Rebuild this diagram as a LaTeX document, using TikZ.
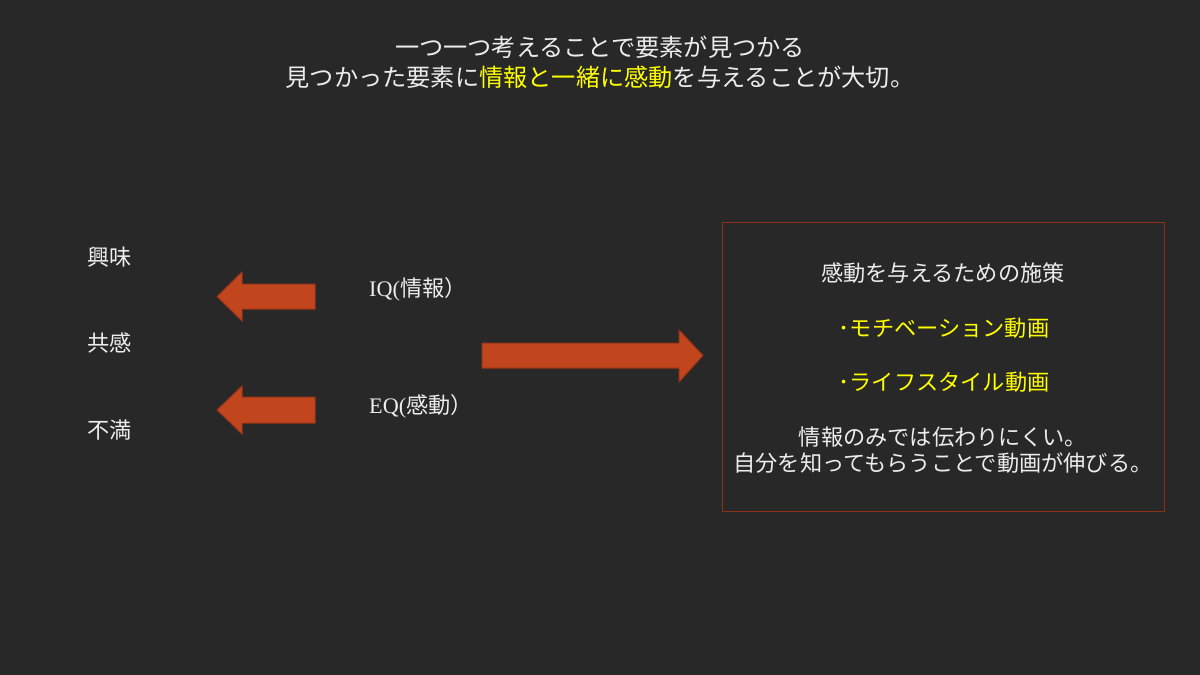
\documentclass[tikz,border=0pt]{standalone}
\usepackage{fontspec}
\setmainfont{Noto Sans CJK JP}
\newfontfamily\latinserif{Liberation Serif}
\usepackage{xcolor}
\usepackage{tikz}
\usetikzlibrary{calc}

\definecolor{slate}{HTML}{282828}
\definecolor{rust}{HTML}{C1461E}
\definecolor{rustdark}{HTML}{9A3416}
\definecolor{boxline}{HTML}{8E2F17}
\definecolor{hilite}{HTML}{FFFF00}
\definecolor{chalk}{HTML}{EDEDED}

\begin{document}
\begin{tikzpicture}[x=1pt, y=-1pt, line join=miter,
  txt/.style={text=chalk, inner sep=0pt, align=center},
  big/.style={font=\fontsize{24.2}{30}\selectfont},
  mid/.style={font=\fontsize{22.2}{26}\selectfont},
  blockarrow/.style={fill=rust, draw=rustdark, line width=1pt}]
  % background
  \fill[slate] (0,0) rectangle (1200,675);
  \useasboundingbox (0,0) rectangle (1200,675);
  % title
  \node[txt,big] (head) at (600,62) {一つ一つ考えることで要素が見つかる\\
    見つかった要素に\textcolor{hilite}{情報と一緒に感動}を与えることが大切。};
  % left column
  \node[txt,mid,anchor=west] (kyomi) at (87,257) {興味};
  \node[txt,mid,anchor=west] (kyokan) at (87,343) {共感};
  \node[txt,mid,anchor=west] (fuman) at (87,430) {不満};
  % arrows to the left
  \draw[blockarrow] (315,284) -- (242,284) -- (242,272) -- (217,296.5)
    -- (242,321) -- (242,309) -- (315,309) -- cycle;
  \draw[blockarrow] (315,397) -- (242,397) -- (242,386) -- (217,410)
    -- (242,434) -- (242,423) -- (315,423) -- cycle;
  \node[txt,mid,anchor=west] (iq) at (369,289) {{\latinserif IQ(}情報）};
  \node[txt,mid,anchor=west] (eq) at (369,406) {{\latinserif EQ(}感動）};
  % arrow to the box
  \draw[blockarrow] (482,343) -- (679,343) -- (679,330) -- (703,355.5)
    -- (679,382) -- (679,368) -- (482,368) -- cycle;
  % box
  \draw[boxline, line width=1pt] (722,222) rectangle (1164,511);
  \node[txt,mid] (sesaku) at (943,273) {感動を与えるための施策};
  \node[txt,mid,text=hilite] (moti) at (944,328) {･モチベーション動画};
  \node[txt,mid,text=hilite] (life) at (944,382) {･ライフスタイル動画};
  \node[txt,mid] (joho) at (943,450) {情報のみでは伝わりにくい。\\
    自分を知ってもらうことで動画が伸びる。};
\end{tikzpicture}
\end{document}
